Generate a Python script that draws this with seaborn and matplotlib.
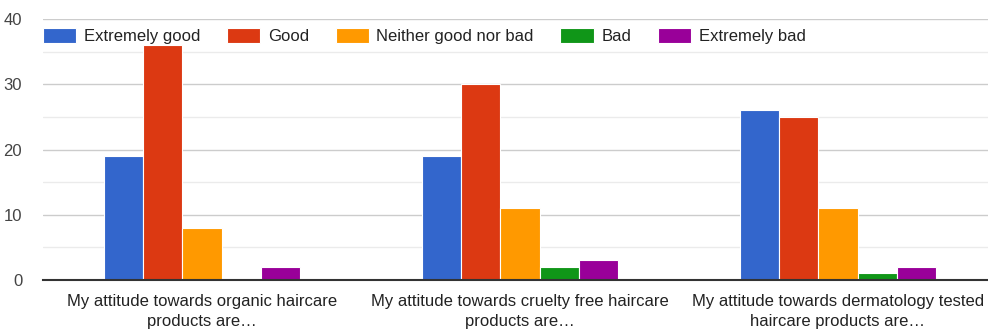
import matplotlib
matplotlib.use("Agg")
import matplotlib.pyplot as plt
import seaborn as sns
import pandas as pd
from matplotlib.ticker import MultipleLocator

categories = [
    "My attitude towards organic haircare\nproducts are…",
    "My attitude towards cruelty free haircare\nproducts are…",
    "My attitude towards dermatology tested\nhaircare products are…",
]
series = ["Extremely good", "Good", "Neither good nor bad", "Bad", "Extremely bad"]
extremely_good = [19, 19, 26]
good = [36, 30, 25]
neither = [8, 11, 11]
bad = [0, 2, 1]
extremely_bad = [2, 3, 2]
colors = ["#3366cc", "#dc3912", "#ff9900", "#109618", "#990099"]

values = [extremely_good, good, neither, bad, extremely_bad]
rows = []
for s, vals in zip(series, values):
    for c, v in zip(categories, vals):
        rows.append({"category": c, "series": s, "count": v})
df = pd.DataFrame(rows)

sns.set_theme(style="white")
plt.rcParams["font.family"] = ["Liberation Sans", "DejaVu Sans"]

fig = plt.figure(figsize=(9.88, 3.31), dpi=100)
ax = fig.add_axes([43 / 988, 51 / 331, 954 / 988, 261 / 331])

sns.barplot(data=df, x="category", y="count", hue="series", order=categories,
            hue_order=series, palette=colors, width=0.615, saturation=1,
            edgecolor="white", linewidth=0.8, ax=ax, errorbar=None)

ax.set_ylim(0, 40)
ax.set_xlim(-0.5, 2.5)
ax.yaxis.set_major_locator(MultipleLocator(10))
ax.yaxis.set_minor_locator(MultipleLocator(5))
ax.grid(axis="y", which="major", color="#cccccc", linewidth=1)
ax.grid(axis="y", which="minor", color="#ebebeb", linewidth=1)
ax.set_axisbelow(True)
for s in ["top", "right", "left"]:
    ax.spines[s].set_visible(False)
ax.spines["bottom"].set_color("#333333")
ax.spines["bottom"].set_linewidth(1.5)
ax.set_xlabel("")
ax.set_ylabel("")
ax.tick_params(axis="y", which="both", length=0, labelsize=12, labelcolor="#444444", pad=15)
ax.tick_params(axis="x", length=0, labelsize=12, labelcolor="#222222", pad=10)
for t in ax.get_xticklabels():
    t.set_linespacing(1.45)

handles, labels = ax.get_legend_handles_labels()
leg = ax.legend(handles, labels, ncol=5, loc="center left",
                bbox_to_anchor=(0, 1 - 17 / 261), borderaxespad=0, borderpad=0,
                fontsize=12, handlelength=2.0, handleheight=1.0,
                handletextpad=0.45, columnspacing=1.6, frameon=True,
                facecolor="white", edgecolor="none", framealpha=1)
for t in leg.get_texts():
    t.set_color("#222222")

fig.savefig("out.png", dpi=100)
